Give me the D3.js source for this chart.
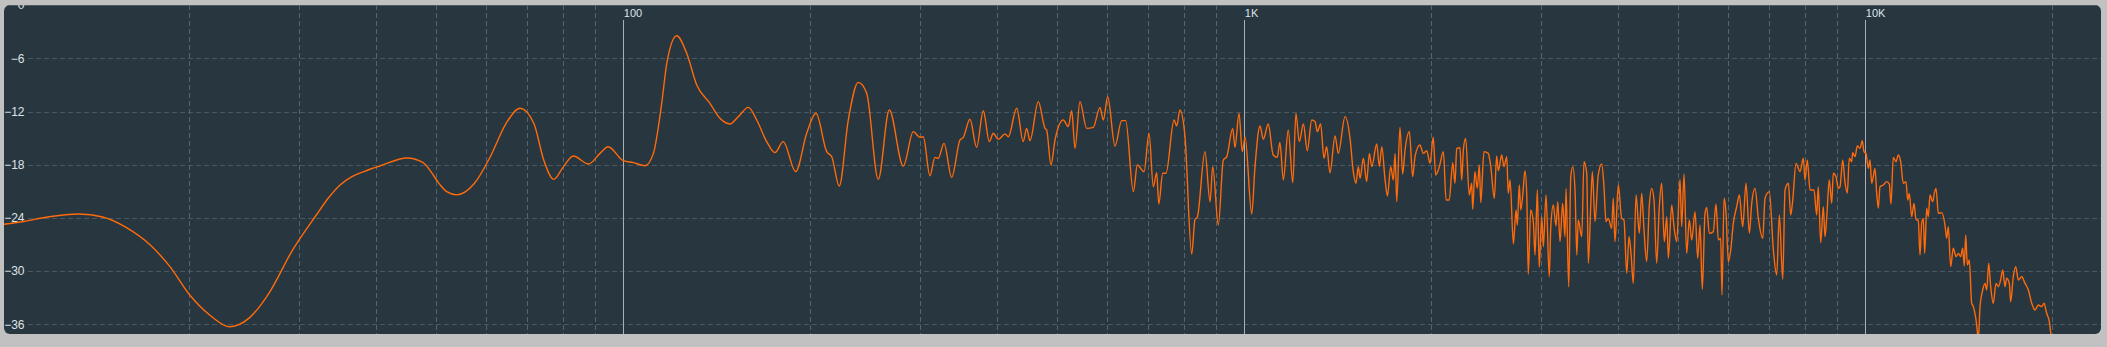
<!DOCTYPE html>
<html><head><meta charset="utf-8">
<script src="https://cdn.jsdelivr.net/npm/d3@7"></script>
<style>html,body{margin:0;padding:0;background:#c1c1c1;overflow:hidden}</style>
</head><body>
<script>
const yTicks = [0, -6, -12, -18, -24, -30, -36];
const yTickLabels = ["0", "−6", "−12", "−18", "−24", "−30", "−36"];
const xMajor = [100, 1000, 10000];
const xMajorLabels = ["100", "1K", "10K"];
const xMinor = [20,30,40,50,60,70,80,90,200,300,400,500,600,700,800,900,2000,3000,4000,5000,6000,7000,8000,9000,20000];

const freq = [10,10.83,11.82,13.29,14.51,15.85,17.31,18.62,20.04,21.57,23.2,24.97,26.87,29.35,32.04,33.48,34.99,36.56,38.21,40.52,44.89,47.61,49.0,50.48,51.97,53.91,57.59,61.07,64.76,68.19,71.76,74.45,77.24,80.11,83.1,87.87,91.73,94.52,
100,103.8,108.4,111.8,115.3,117.5,121.9,126.5,131.3,137.9,143.1,148.5,153.2,159,164,170.2,175.5,180.9,189.5,197.4,204.3,212.6,216.6,222.7,230.3,239,246.6,257.4,268.1,282.4,293.1,300.4,304.1,311.7,317.6,321.5,328.4,337.9,348.5,352.8,361.6,370.7,379.9,388.5,394.3,401.7,411.8,416.9,430,440.6,446.2,451.7,465.9,477.6,480.6,488.3,495.7,511.1,520.7,527.3,533.8,543.7,557.4,571.2,585.6,592.8,602.6,619.1,634.6,644.2,662.7,672.6,689.6,702.4,713.7,722.7,728.2,739,748.1,770.6,778.3,787.8,802.6,822.8,832.9,840,864.3,880.7,889.5,908.1,925.2,937,957.9,966.1,980.6,992.6,
1003,1028,1040,1060,1073,1093,1113,1130,1141,1156,1177,1197,1211,1226,1245,1263,1284,1300,1311,1327,1344,1357,1374,1400,1417,1453,1480,1498,1513,1526,1536,1555,1574,1590,1604,1634,1650,1665,1685,1700,1721,1738,1749,1760,1781,1799,1815,1844,1867,1883,1918,1942,1967,1991,2015,2033,2061,2092,2113,2138,2166,2184,2198,2225,2239,2253,2272,2303,2324,2332,2352,2372,2390,2403,2432,2471,2494,2527,2549,2565,2597,2619,2646,2661,2679,2712,2739,2752,2772,2787,2808,2831,2850,2866,2892,2920,2939,2964,2985,3012,3031,3061,3098,3115,3145,3176,3197,3224,3256,3284,3297,3330,3355,3380,3409,3431,3450,3494,3524,3560,3581,3613,3635,3671,3715,3763,3795,3823,3856,3905,3928,3953,4002,4052,4087,4129,4164,4195,4231,4274,4326,4364,4402,4446,4490,4529,4568,4614,4659,4700,4746,4789,4818,4878,4920,4970,5031,5062,5106,5157,5207,5254,5319,5372,5418,5464,5520,5554,5608,5691,5749,5799,5850,5878,5923,5967,6018,6071,6130,6208,6268,6348,6426,6505,6563,6644,6726,6837,6895,7006,7111,7200,7270,7363,7426,7517,7585,7641,7735,7851,7947,7997,8065,8147,8268,8350,8400,8476,8558,8612,8666,8750,8829,8882,8970,9047,9106,9196,9275,9354,9424,9509,9544,9626,9708,9806,9890,9952,
10026,10112,10176,10240,10301,10366,10432,10494,10560,10690,10826,10930,11000,11094,11206,11301,11402,11513,11629,11702,11772,11877,11979,12068,12171,12248,12325,12399,12463,12556,12631,12712,12839,12915,12997,13111,13274,13437,13522,13604,13724,13857,14000,14119,14243,14349,14435,14511,14598,14706,14836,14925,15115,15206,15301,15453,15588,15685,15801,15918,16073,16236,16375,16519,16645,16788,16893,17057,17144,17311,17467,17637,17858,18082,18304,18535,18763,18993,19235,19399,19593,19783,19907,20000];

const db = [-24.75,-24.4,-23.9,-23.56,-23.9,-25.1,-27.06,-29.5,-32.7,-34.95,-36.27,-35.3,-32.5,-27.6,-23.67,-21.79,-20.29,-19.35,-18.78,-18.15,-17.24,-17.77,-18.78,-20.1,-21.04,-21.4,-20.1,-17.1,-13.33,-11.64,-13.33,-17.47,-19.65,-18.22,-17.02,-17.92,-16.72,-15.97,
-17.55,-17.77,-18.11,-16.72,-11.08,-6.57,-3.45,-5.44,-9.01,-11.08,-12.77,-13.41,-12.58,-11.53,-12.96,-15.4,-16.64,-15.4,-18.78,-14.46,-12.2,-16.53,-17.1,-20.4,-12.96,-8.71,-9.95,-19.65,-11.83,-18.15,-14.27,-14.91,-14.84,-19.24,-17.17,-17.28,-15.59,-19.42,-15.21,-14.91,-12.88,-16.04,-11.91,-15.4,-14.46,-15.14,-14.54,-14.84,-11.64,-15.4,-13.9,-15.29,-10.89,-13.9,-14.09,-18.03,-15.21,-12.96,-13.71,-11.91,-16.15,-10.89,-13.9,-13.79,-11.53,-12.96,-10.33,-15.89,-13.03,-13.03,-21.04,-18.03,-18.78,-14.46,-20.48,-18.9,-22.43,-18.97,-18.97,-12.96,-13.63,-11.83,-14.84,-28.07,-24.16,-23.93,-16.53,-22.17,-18.22,-24.8,-17.47,-17.09,-13.9,-16.04,-12.21,-16.53,
-14.91,-23.56,-18.41,-13.63,-15.14,-13.41,-16.9,-17.17,-15.5,-19.73,-14.09,-20.03,-12.21,-15.4,-13.41,-16.42,-12.96,-13.15,-14.27,-13.41,-17.28,-15.97,-18.9,-14.76,-16.72,-12.58,-15.03,-18.78,-20.1,-18.22,-19.54,-17.28,-19.91,-16.72,-18.22,-15.66,-18.22,-15.97,-19.65,-21.53,-18.22,-19.73,-16.72,-22.17,-13.79,-19.05,-16.34,-14.27,-19.35,-17.09,-15.78,-16.72,-16.42,-17.85,-14.91,-19.16,-18.22,-16.53,-21.98,-21.98,-17.77,-20.1,-16.15,-16.08,-19.73,-16.34,-15.03,-21.42,-20.1,-23.03,-18.78,-20.67,-18.03,-22.28,-16.53,-16.72,-18.22,-21.79,-17.02,-18.67,-16.9,-18.22,-17.09,-21.23,-19.73,-26.94,-23.11,-24.8,-20.29,-23.11,-21.42,-18.67,-21.42,-30.33,-23.11,-24.42,-28.18,-20.85,-29.58,-23.86,-27.24,-21.42,-30.63,-25.18,-22.55,-24.91,-22.17,-26.68,-22.36,-26.12,-20.67,-31.76,-19.35,-18.22,-21,-28.18,-24.24,-26.12,-17.66,-18.97,-29.12,-22.73,-18.78,-24.42,-19.16,-17.92,-20.48,-24.42,-24.05,-25.18,-21.79,-26.68,-20.29,-24.05,-24.24,-30.25,-26.12,-28,-31.38,-21.42,-25.74,-21.23,-25.37,-28.94,-22.55,-20.67,-21.98,-29.12,-22.73,-20.1,-26.68,-23.86,-28.56,-22.55,-24.99,-26.68,-19.65,-24.99,-19.05,-28,-24.24,-26.49,-23.3,-28.56,-24.8,-32.06,-23.48,-22.81,-25.74,-25.55,-22.43,-26.49,-26.3,-32.69,-21.79,-23.48,-28.94,-27.62,-24.61,-22.73,-21.42,-24.99,-20.1,-25.74,-22.36,-20.67,-24.05,-26.3,-21.79,-21.04,-27.62,-30.44,-23.67,-30.93,-20.85,-20.1,-23.67,-21.98,-17.85,-18.78,-17.28,-19.73,-17.47,-20.85,-20.85,-23.67,-20.48,-26.79,-22.73,-26.12,-24.05,-19.73,-22.36,-18.97,-19.35,-20.67,-20.48,-17.47,-20,-21.2,-17.28,-17.66,-16.64,-17.09,-15.89,-16.15,-15.29,-16.53,
-16.72,-18.41,-17.47,-20.1,-19.35,-18.41,-21.23,-22.92,-20.48,-20.29,-19.91,-20.18,-22.43,-17.17,-17.66,-16.9,-17.66,-20.1,-19.91,-21.98,-21.23,-23.86,-22.36,-24.16,-24.31,-28.18,-24.61,-24.05,-28,-22.92,-23.86,-21.42,-22.17,-21.23,-20.67,-23.48,-23.41,-24.8,-26.3,-24.99,-29.5,-27.43,-28.37,-28,-28.37,-27.43,-29.42,-25.93,-29.31,-28.75,-33.63,-34.01,-36.08,-37.77,-34.01,-32.13,-31.38,-32.13,-29.12,-31.76,-33.63,-31.38,-31.76,-31,-29.87,-31.76,-30.81,-31.38,-33.45,-30.63,-29.5,-31,-30.63,-31.38,-32.13,-33.63,-34.39,-33.82,-34.01,-33.63,-34.76,-35.7,-37.21,-38.5];

const W = 2107, H = 347;
const panel = {x: 4, y: 5, w: 2097, h: 329, r: 6};

const svg = d3.select("body").append("svg").attr("width", W).attr("height", H);
svg.append("rect").attr("width", W).attr("height", H).attr("fill", "#c1c1c1");

const defs = svg.append("defs");
defs.append("clipPath").attr("id", "clip").append("rect")
  .attr("x", panel.x).attr("y", panel.y).attr("width", panel.w).attr("height", panel.h).attr("rx", panel.r);

svg.append("rect").attr("x", panel.x).attr("y", panel.y).attr("width", panel.w).attr("height", panel.h)
  .attr("rx", panel.r).attr("fill", "#283640");

const x = d3.scaleLog().domain([10, 10000]).range([2.3, 1865.3]);
const y = d3.scaleLinear().domain([0, -36]).range([5.1, 324.3]);

const g = svg.append("g").attr("clip-path", "url(#clip)");

g.append("line").attr("x1", panel.x).attr("x2", panel.x + panel.w).attr("y1", panel.y + 0.5).attr("y2", panel.y + 0.5)
  .attr("stroke", "#4e5a64").attr("stroke-width", 1);

g.selectAll("line.hg").data(yTicks.filter(d => d !== 0)).enter().append("line")
  .attr("class", "hg")
  .attr("x1", 28).attr("x2", panel.x + panel.w)
  .attr("y1", d => Math.round(y(d)) + 0.5).attr("y2", d => Math.round(y(d)) + 0.5)
  .attr("stroke", "#4a5863").attr("stroke-width", 1).attr("stroke-dasharray", "5,3");

g.selectAll("line.vg").data(xMinor).enter().append("line")
  .attr("class", "vg")
  .attr("x1", d => Math.round(x(d)) + 0.5).attr("x2", d => Math.round(x(d)) + 0.5)
  .attr("y1", panel.y).attr("y2", panel.y + panel.h)
  .attr("stroke", "#56636d").attr("stroke-width", 1).attr("stroke-dasharray", "5,3");

g.selectAll("line.vm").data(xMajor).enter().append("line")
  .attr("class", "vm")
  .attr("x1", d => Math.round(x(d)) + 0.5).attr("x2", d => Math.round(x(d)) + 0.5)
  .attr("y1", 20).attr("y2", panel.y + panel.h)
  .attr("stroke", "#a9b0b6").attr("stroke-width", 1);

g.selectAll("text.xl").data(xMajor).enter().append("text")
  .attr("class", "xl")
  .attr("x", d => x(d) + 0.5).attr("y", 17)
  .attr("fill", "#dfe3e6").attr("font-family", "Liberation Sans, Arial, sans-serif").attr("font-size", "11px")
  .text((d, i) => xMajorLabels[i]);

const yAxis = d3.axisLeft(y).tickValues(yTicks).tickSize(0).tickPadding(0)
  .tickFormat((d, i) => yTickLabels[i]);
const ya = g.append("g").attr("transform", "translate(24.5,0)").call(yAxis);
ya.select(".domain").remove();
ya.selectAll("text").attr("fill", "#dfe3e6").attr("font-family", "Liberation Sans, Arial, sans-serif").attr("font-size", "12px");

const pts = freq.map((f, i) => [f, db[i]]);
const line = d3.line().x(d => x(d[0])).y(d => y(d[1])).curve(d3.curveMonotoneX);
g.append("path").datum(pts).attr("d", line)
  .attr("fill", "none").attr("stroke", "#ff6a0a").attr("stroke-width", 1.4).attr("stroke-linejoin", "round");
</script>
</body></html>
